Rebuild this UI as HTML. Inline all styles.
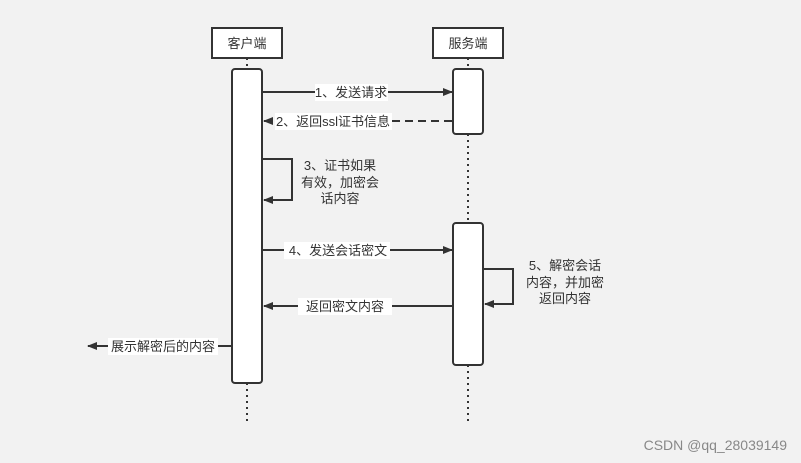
<!DOCTYPE html>
<html><head><meta charset="utf-8"><style>
html,body{margin:0;padding:0;background:#f2f2f2;}
svg{display:block;}
text{font-family:"Liberation Sans","Noto Sans CJK SC",sans-serif;font-size:13px;fill:#333;}
</style></head><body>
<svg width="801" height="463" viewBox="0 0 801 463" xmlns="http://www.w3.org/2000/svg">
<defs>
<marker id="a" markerWidth="10" markerHeight="8" refX="9" refY="4" orient="auto" markerUnits="userSpaceOnUse">
<path d="M0,0 L10,4 L0,8 Z" fill="#333"/></marker>
</defs>
<rect width="801" height="463" fill="#f2f2f2"/>
<g stroke="#333" stroke-width="2" stroke-dasharray="2,4" fill="none">
<line x1="247" y1="58" x2="247" y2="69"/>
<line x1="247" y1="383" x2="247" y2="425"/>
<line x1="468" y1="58" x2="468" y2="69"/>
<line x1="468" y1="134" x2="468" y2="223"/>
<line x1="468" y1="365" x2="468" y2="425"/>
</g>
<rect x="212" y="28" width="70" height="30" fill="#fff" stroke="#333" stroke-width="2"/>
<text x="247" y="48" text-anchor="middle">客户端</text>
<rect x="433" y="28" width="70" height="30" fill="#fff" stroke="#333" stroke-width="2"/>
<text x="468" y="48" text-anchor="middle">服务端</text>
<rect x="232" y="69" width="30" height="314" rx="3" fill="#fff" stroke="#333" stroke-width="2"/>
<rect x="453" y="69" width="30" height="65" rx="3" fill="#fff" stroke="#333" stroke-width="2"/>
<rect x="453" y="223" width="30" height="142" rx="3" fill="#fff" stroke="#333" stroke-width="2"/>
<g stroke="#333" stroke-width="2" fill="none">
<line x1="263" y1="92" x2="452" y2="92" marker-end="url(#a)"/>
<line x1="452" y1="121" x2="264" y2="121" stroke-dasharray="8,5" marker-end="url(#a)"/>
<polyline points="263,159 292,159 292,200 264,200" marker-end="url(#a)"/>
<line x1="263" y1="250" x2="452" y2="250" marker-end="url(#a)"/>
<polyline points="484,269 513,269 513,304 485,304" marker-end="url(#a)"/>
<line x1="452" y1="306" x2="264" y2="306" marker-end="url(#a)"/>
<line x1="231" y1="346" x2="88" y2="346" marker-end="url(#a)"/>
</g>
<rect x="315" y="84" width="73" height="17" fill="#fff"/>
<text x="351" y="97" text-anchor="middle">1、发送请求</text>
<rect x="275" y="113" width="117" height="17" fill="#fff"/>
<text x="333" y="126" text-anchor="middle">2、返回ssl证书信息</text>
<text x="340" y="170" text-anchor="middle">3、证书如果</text>
<text x="340" y="187" text-anchor="middle">有效，加密会</text>
<text x="340" y="203" text-anchor="middle">话内容</text>
<rect x="284" y="242" width="106" height="17" fill="#fff"/>
<text x="338" y="255" text-anchor="middle">4、发送会话密文</text>
<text x="565" y="270" text-anchor="middle">5、解密会话</text>
<text x="565" y="287" text-anchor="middle">内容，并加密</text>
<text x="565" y="303" text-anchor="middle">返回内容</text>
<rect x="298" y="298" width="94" height="17" fill="#fff"/>
<text x="345" y="311" text-anchor="middle">返回密文内容</text>
<rect x="108" y="338" width="110" height="17" fill="#fff"/>
<text x="163" y="351" text-anchor="middle">展示解密后的内容</text>
<text x="787" y="450" text-anchor="end" style="font-size:14px;fill:#888">CSDN @qq_28039149</text>
</svg>
</body></html>
